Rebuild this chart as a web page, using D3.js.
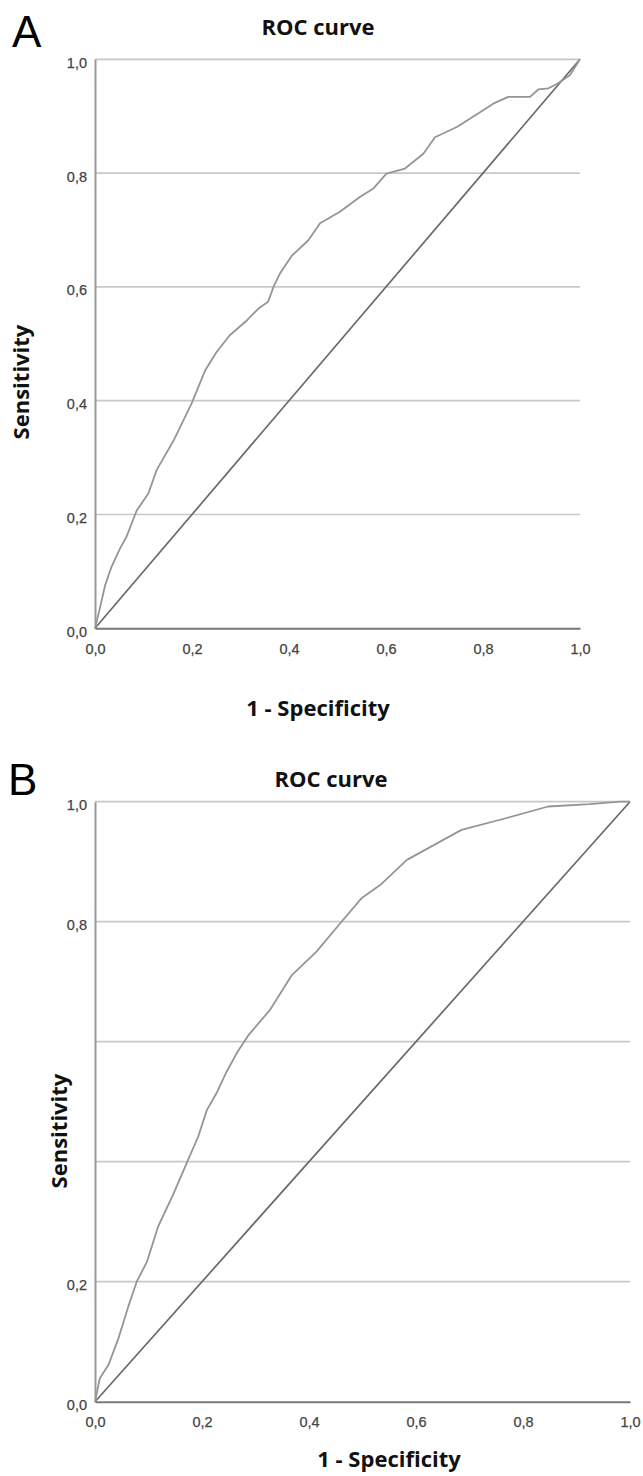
<!DOCTYPE html>
<html>
<head>
<meta charset="utf-8">
<script src="https://cdn.jsdelivr.net/npm/d3@7"></script>
<style>
  body { margin: 0; background: #fff; }
  .lbl { font-family: "Open Sans", sans-serif; font-weight: 700; fill: #111; }
</style>
</head>
<body>
<div id="chart"></div>
<script>
// Panel A: ROC curve points (1 - specificity, sensitivity)
var rocA_fpr = [0, 0.010, 0.021, 0.034, 0.052, 0.065, 0.086, 0.110, 0.127, 0.162, 0.199, 0.227, 0.251, 0.278,
    0.313, 0.337, 0.357, 0.368, 0.381, 0.406, 0.440, 0.464, 0.505, 0.546, 0.574, 0.601, 0.639, 0.677, 0.701,
    0.746, 0.794, 0.821, 0.852, 0.897, 0.914, 0.935, 0.955, 0.972, 0.979, 1];
var rocA_tpr = [0, 0.035, 0.076, 0.108, 0.141, 0.161, 0.207, 0.237, 0.278, 0.330, 0.395, 0.453, 0.486, 0.515,
    0.541, 0.562, 0.574, 0.600, 0.623, 0.655, 0.682, 0.712, 0.732, 0.758, 0.773, 0.799, 0.808, 0.834, 0.863,
    0.881, 0.907, 0.922, 0.934, 0.934, 0.947, 0.949, 0.958, 0.968, 0.972, 1];

// Panel B
var rocB_fpr = [0, 0.009, 0.025, 0.044, 0.062, 0.078, 0.097, 0.118, 0.146, 0.174, 0.193, 0.209, 0.227, 0.246,
    0.265, 0.287, 0.327, 0.368, 0.414, 0.458, 0.498, 0.533, 0.583, 0.685, 0.766, 0.847, 0.925, 0.981, 1];
var rocB_tpr = [0, 0.039, 0.061, 0.106, 0.158, 0.200, 0.233, 0.292, 0.345, 0.403, 0.442, 0.486, 0.514, 0.550,
    0.581, 0.611, 0.653, 0.711, 0.750, 0.797, 0.839, 0.861, 0.903, 0.953, 0.972, 0.992, 0.996, 1.0, 1];

var refLine = [0, 1];
var xTicks = [0, 0.2, 0.4, 0.6, 0.8, 1];
var gridTicks = [0.2, 0.4, 0.6, 0.8, 1];
var yLabelsA = [0, 0.2, 0.4, 0.6, 0.8, 1];
var yLabelsB = [0, 0.2, 0.8, 1];

var chartTitle = "ROC curve",
    xTitle = "1 - Specificity",
    yTitle = "Sensitivity";

var width = 643,
    height = 1476;

var panels = [
    { letter: "A", fpr: rocA_fpr, tpr: rocA_tpr, yLabels: yLabelsA,
      left: 95, right: 580, top: 59.3, bottom: 628.3,
      letterX: 12, letterY: 47, titleX: 318, titleY: 35,
      yTitleX: 29, yTitleY: 382, xTitleX: 318, xTitleY: 716 },
    { letter: "B", fpr: rocB_fpr, tpr: rocB_tpr, yLabels: yLabelsB,
      left: 95, right: 630, top: 801.7, bottom: 1401.7,
      letterX: 8, letterY: 795, titleX: 331, titleY: 787,
      yTitleX: 67, yTitleY: 1131, xTitleX: 389, xTitleY: 1467 }
];

var svg = d3.select("#chart")
    .append("svg")
    .attr("width", width)
    .attr("height", height);

function fmt(d) {
    return d3.format(".1f")(d).replace(".", ",");
}

panels.forEach(drawPanel);

function drawPanel(p) {
    var x = d3.scaleLinear().domain([0, 1]).range([p.left, p.right]);
    var y = d3.scaleLinear().domain([0, 1]).range([p.bottom, p.top]);
    var g = svg.append("g");

    // horizontal gridlines
    g.selectAll(".grid")
        .data(gridTicks)
        .enter()
        .append("line")
        .attr("x1", x(0))
        .attr("x2", x(1))
        .attr("y1", function (d) { return y(d); })
        .attr("y2", function (d) { return y(d); })
        .attr("stroke", "#c8c8c8")
        .attr("stroke-width", 1.7);

    // reference diagonal
    g.append("path")
        .datum(refLine)
        .attr("fill", "none")
        .attr("stroke", "#6a6a6a")
        .attr("stroke-width", 1.7)
        .attr("d", d3.line()
            .x(function (d) { return x(d); })
            .y(function (d) { return y(d); }));

    // roc curve
    var pts = p.fpr.map(function (v, i) { return [v, p.tpr[i]]; });
    g.append("path")
        .datum(pts)
        .attr("fill", "none")
        .attr("stroke", "#959595")
        .attr("stroke-width", 1.8)
        .attr("stroke-linejoin", "round")
        .attr("d", d3.line()
            .x(function (d) { return x(d[0]); })
            .y(function (d) { return y(d[1]); }));

    // axes
    var yAxis = g.append("g")
        .attr("transform", "translate(" + p.left + ",0)")
        .call(d3.axisLeft(y).tickValues(p.yLabels).tickSize(0).tickSizeOuter(0).tickPadding(8).tickFormat(fmt));
    yAxis.select(".domain").attr("stroke", "#999").attr("stroke-width", 2);
    yAxis.selectAll("text").attr("dy", "0.55em");

    var xAxis = g.append("g")
        .attr("transform", "translate(0," + p.bottom + ")")
        .call(d3.axisBottom(x).tickValues(xTicks).tickSize(0).tickSizeOuter(0).tickPadding(15).tickFormat(fmt));
    xAxis.select(".domain").attr("stroke", "#777").attr("stroke-width", 2);

    g.selectAll(".tick text")
        .attr("font-family", "'Liberation Sans', Arial, sans-serif")
        .attr("font-size", 14.5)
        .attr("fill", "#444")
        .attr("stroke", "#444")
        .attr("stroke-width", 0.25);

    // labels
    g.append("text")
        .attr("x", p.letterX)
        .attr("y", p.letterY)
        .attr("font-family", "'Liberation Sans', Arial, sans-serif")
        .attr("font-size", 44)
        .attr("fill", "#000")
        .text(p.letter);

    g.append("text")
        .attr("class", "lbl")
        .attr("x", p.titleX)
        .attr("y", p.titleY)
        .attr("text-anchor", "middle")
        .attr("font-size", 22)
        .text(chartTitle);

    g.append("text")
        .attr("class", "lbl")
        .attr("x", p.xTitleX)
        .attr("y", p.xTitleY)
        .attr("text-anchor", "middle")
        .attr("font-size", 22)
        .text(xTitle);

    g.append("text")
        .attr("class", "lbl")
        .attr("transform", "translate(" + p.yTitleX + "," + p.yTitleY + ") rotate(-90)")
        .attr("text-anchor", "middle")
        .attr("font-size", 22)
        .text(yTitle);
}
</script>
</body>
</html>
